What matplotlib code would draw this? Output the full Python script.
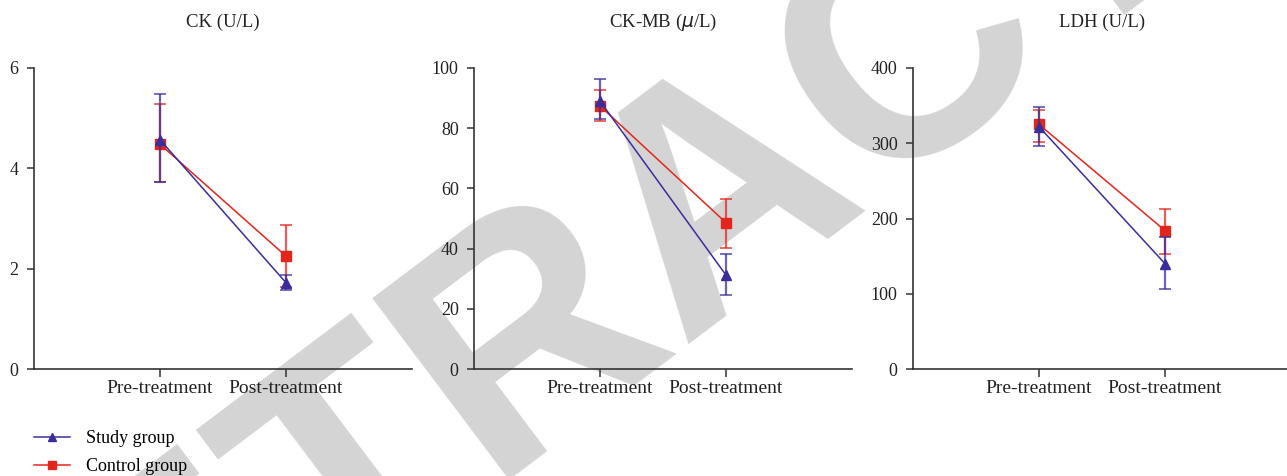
import matplotlib
matplotlib.use("Agg")
import matplotlib.pyplot as plt
from matplotlib.lines import Line2D

# data
phases = ["Pre-treatment", "Post-treatment"]
titles = ["CK (U/L)", "CK-MB ($\\mu$/L)", "LDH (U/L)"]
y_max = [6, 100, 400]
y_step = [2, 20, 100]

study_mean = [[4.57, 1.72], [89.0, 31.2], [322, 140]]
study_err_hi = [[0.92, 0.15], [7.2, 7.0], [26, 35]]
study_err_lo = [[0.84, 0.15], [6.0, 6.6], [26, 34]]

control_mean = [[4.48, 2.25], [87.4, 48.6], [325, 184]]
control_err_hi = [[0.81, 0.62], [5.3, 8.0], [19, 29]]
control_err_lo = [[0.76, 0.61], [5.1, 8.3], [23, 31]]

blue = "#3a2e9c"
red = "#e2261c"
blue_err = (0.23, 0.18, 0.61, 0.75)
red_err = (0.89, 0.15, 0.11, 0.75)
serif = "Liberation Serif"

W, H = 1287, 476
fig = plt.figure(figsize=(W / 100, H / 100), dpi=100)

# watermark
fig.text(722 / W, 1 - 195 / H, "RETRACTED", fontsize=238, fontweight="bold",
         family="Liberation Sans", color="#d4d4d4", rotation=37,
         ha="center", va="center", zorder=-5)

lefts = [34, 474, 913]
ax_w = 378
ax_top, ax_bot = 68, 369

for i in range(3):
    ax = fig.add_axes([lefts[i] / W, 1 - ax_bot / H, ax_w / W, (ax_bot - ax_top) / H])
    ax.set_facecolor("none")
    x = [0, 1]
    ax.errorbar(x, study_mean[i], yerr=[study_err_lo[i], study_err_hi[i]],
                color=blue, ecolor=blue_err, marker="^", markersize=7, lw=1.1,
                elinewidth=1.6, capsize=4, capthick=1.3, zorder=3)
    ax.errorbar(x, control_mean[i], yerr=[control_err_lo[i], control_err_hi[i]],
                color=red, ecolor=red_err, marker="s", markersize=7, lw=1.1,
                elinewidth=1.6, capsize=4, capthick=1.3, zorder=2)
    ax.set_xlim(-1, 2)
    ax.set_ylim(0, y_max[i])
    ax.set_yticks(range(0, y_max[i] + 1, y_step[i]))
    ax.set_xticks(x)
    ax.set_xticklabels(phases)
    for s in ["top", "right"]:
        ax.spines[s].set_visible(False)
    for s in ["left", "bottom"]:
        ax.spines[s].set_color("#333333")
        ax.spines[s].set_linewidth(1.2)
    ax.tick_params(axis="y", length=5, width=1.1, color="#333333", pad=6,
                   labelsize=13, labelcolor="#222222")
    ax.tick_params(axis="x", length=6, width=1.1, color="#333333", pad=2,
                   labelsize=14, labelcolor="#222222")
    for lab in ax.get_xticklabels() + ax.get_yticklabels():
        lab.set_family(serif)
    ax.text(0.5, 1 + (ax_top - 22) / (ax_bot - ax_top), titles[i], transform=ax.transAxes,
            ha="center", va="center", fontsize=13.5, family=serif, color="#222222")

handles = [
    Line2D([], [], color=blue, marker="^", markersize=6, lw=1.1),
    Line2D([], [], color=red, marker="s", markersize=6, lw=1.1),
]
fig.legend(handles, ["Study group", "Control group"], loc="upper left",
           bbox_to_anchor=(34 / W, 1 - 430 / H), frameon=False, borderpad=0,
           borderaxespad=0, handlelength=2.0, handletextpad=0.9, labelspacing=0.6,
           prop={"family": serif, "size": 13})

fig.savefig("out.png", dpi=100)
